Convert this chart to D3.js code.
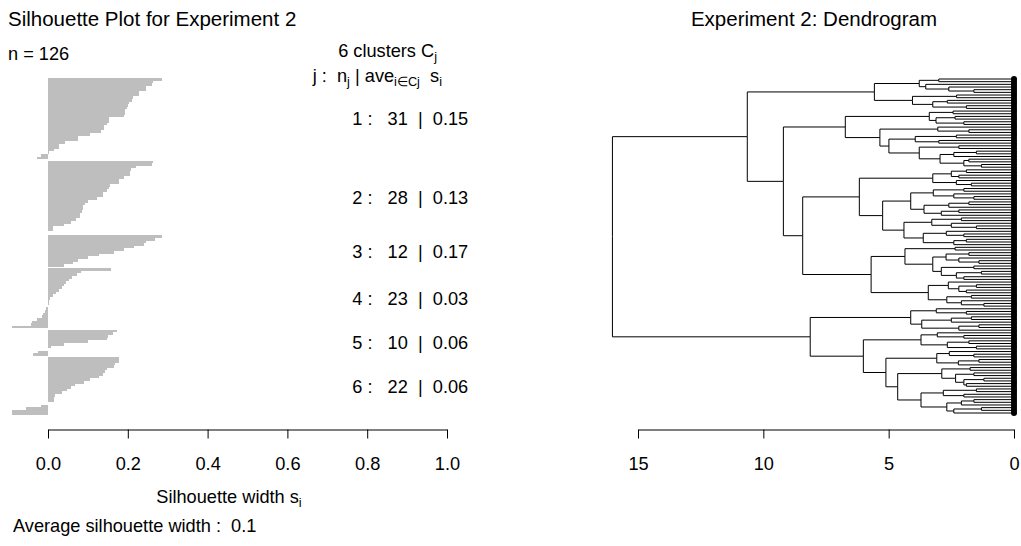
<!DOCTYPE html>
<html>
<head>
<meta charset="utf-8">
<script src="https://cdn.jsdelivr.net/npm/d3@7"></script>
<style>
  body { margin: 0; background: #fff; }
  text { font-family: "Liberation Sans", Arial, sans-serif; fill: #000; white-space: pre; }
</style>
</head>
<body>
<svg id="chart" width="1021" height="546"></svg>
<script>
// ---- silhouette widths, one array per cluster (sorted, top bar first)
const clusterIds = [1, 2, 3, 4, 5, 6];
const clusterAvg = ["0.15", "0.13", "0.17", "0.03", "0.06", "0.06"];
const sil1 = [0.285, 0.262, 0.260, 0.246, 0.245, 0.229, 0.228, 0.212, 0.210, 0.202, 0.200, 0.199, 0.193, 0.192, 0.190, 0.154,
              0.153, 0.148, 0.141, 0.140, 0.133, 0.105, 0.075, 0.074, 0.042, 0.028, 0.027, 0.015, 0.003, -0.018, -0.027];
const sil2 = [0.262, 0.260, 0.220, 0.207, 0.206, 0.205, 0.190, 0.178, 0.177, 0.155, 0.154, 0.147, 0.139, 0.138,
              0.122, 0.101, 0.093, 0.087, 0.087, 0.086, 0.080, 0.079, 0.070, 0.058, 0.039, 0.013, 0.012, 0.001];
const sil3 = [0.285, 0.268, 0.246, 0.241, 0.216, 0.191, 0.166, 0.129, 0.099, 0.075, 0.063, 0.040];
const sil4 = [0.157, 0.083, 0.073, 0.060, 0.053, 0.045, 0.040, 0.035, 0.027, 0.020, 0.012, 0.006, 0.003, 0.002,
              0.000, -0.004, -0.008, -0.012, -0.015, -0.027, -0.040, -0.042, -0.089];
const sil5 = [0.174, 0.162, 0.150, 0.147, 0.100, 0.040, 0.008, 0.000, -0.025, -0.038];
const sil6 = [0.178, 0.177, 0.167, 0.166, 0.147, 0.143, 0.139, 0.129, 0.105, 0.090, 0.068, 0.057, 0.047, 0.034,
              0.017, 0.015, 0.014, 0.000, -0.017, -0.054, -0.089, -0.089];
const silTicks = [0, 0.2, 0.4, 0.6, 0.8, 1.0];
const avgWidth = "0.1";

// ---- dendrogram: "o" = leaf, "(a,b)h" = merge at height h
const subA1 = "(((o,o)3.0,(o,(o,(o,o)1.6)2.6)3.52)3.78,((o,o)2.29,((o,o)2.66,(o,o)1.9)3.24)4.05)5.57";
const subA2a = "(((o,o)2.43,((o,o)2.35,(o,o)2.0)3.11)3.38,((o,(o,o)1.8)3.04,(((o,o)2.3,(o,o)3.0)3.94,((o,o)2.2,(((o,o)1.5,o)2.4,((o,o)1.8,(o,o)1.3)2.0)2.95)3.78)4.99)5.35)6.73";
const subA2b1 = "((((o,o)1.9,(o,o)2.2)2.5,(o,(o,o)1.7)2.3)3.24,((((o,o)2.0,(o,(o,o)1.6)2.4)3.22,(((o,o)1.8,o)2.6,((o,o)2.2,o)2.9)3.59)4.12,(((o,o)2.1,(o,(o,o)1.5)2.5)3.28,((o,(o,o)2.0)2.7,((o,o)1.9,o)2.4)3.62)4.39)5.24)6.17";
const subA2b2 = "(((o,o)2.35,(((o,o)1.8,(o,(o,o)1.4)2.2)2.71,((o,o)1.6,((o,o)1.3,(o,o)2.0)2.3)2.9)3.24)4.35,((o,((o,o)1.5,(o,o)1.9)2.2)2.62,((o,o)1.7,(o,(o,o)1.2)2.1)2.68)3.42)5.70";
const subB1 = "((o,(o,o)1.9)3.1,(((o,o)1.7,o)2.5,((o,o)1.4,o)2.2)3.68)4.12";
const subB2 = "(((o,(o,o)2.0)3.06,((o,o)1.8,(o,o)1.5)2.66)3.71,(((o,(o,o)1.6)2.58,((o,o)1.4,o)2.22)3.08,(((o,o)1.75,((o,o)1.6,((o,o)1.2,(o,o)1.9)2.0)2.33)2.88,(((o,o)1.5,(o,o)2.0)2.82,(((o,o)1.6,o)2.1,((o,o)1.3,o)2.4)2.68)3.71)4.64)5.11)6.01";
const topTree = "(({A1},({A2a},({A2b1},{A2b2})8.43)9.20)10.64,({B1},{B2})8.13)16.02";
const dendroTicks = [0, 5, 10, 15];

const svg = d3.select('#chart');
const FS = 18.2;
const SUB = FS * 0.7;

// ================= silhouette plot =================
const clusters = [sil1, sil2, sil3, sil4, sil5, sil6];
let bars = [];
let pos = 0;
clusters.forEach((vals, ci) => {
    vals.forEach(v => {
        bars.push({cluster: ci, value: v, pos: pos});
        pos += 1;
    });
    pos += 0.5;
});
const totalUnits = pos - 0.5;

const xSil = d3.scaleLinear().domain([0, 1]).range([48, 447]);
const ySil = d3.scaleLinear().domain([0, totalUnits]).range([78, 415]);

svg.append('g')
    .selectAll('rect')
    .data(bars)
    .join('rect')
    .attr('x', d => xSil(Math.min(0, d.value)))
    .attr('y', d => ySil(d.pos))
    .attr('width', d => Math.abs(xSil(d.value) - xSil(0)))
    .attr('height', d => ySil(d.pos + 1) - ySil(d.pos))
    .attr('fill', '#bebebe')
    .attr('shape-rendering', 'crispEdges');

const axisY = 429.5;
const silAxis = svg.append('g')
    .attr('transform', `translate(0,${axisY})`)
    .call(d3.axisBottom(xSil).tickValues(silTicks).tickFormat(d3.format('.1f')).tickSize(9).tickSizeOuter(0).tickPadding(19));
silAxis.selectAll('text').style('font-size', FS + 'px').style('font-family', '"Liberation Sans", Arial, sans-serif');
silAxis.selectAll('line, path').attr('stroke', '#000');

// titles and labels
svg.append('text').attr('x', 8).attr('y', 26).style('font-size', '20.5px')
    .text('Silhouette Plot for Experiment 2');

svg.append('text').attr('x', 8).attr('y', 60).style('font-size', FS + 'px')
    .text('n = 126');

const kText = svg.append('text').attr('x', 437).attr('y', 57).attr('text-anchor', 'end').style('font-size', FS + 'px');
kText.append('tspan').text(clusterIds.length + ' clusters C');
kText.append('tspan').attr('dy', 4).style('font-size', SUB + 'px').text('j');

const hdr = svg.append('text').attr('y', 82).attr('text-anchor', 'end').attr('x', 442).style('font-size', FS + 'px');
hdr.append('tspan').text('j :  n');
hdr.append('tspan').attr('dy', 4).style('font-size', SUB + 'px').text('j');
hdr.append('tspan').attr('dy', -4).text(' | ave');
hdr.append('tspan').attr('dy', 4).style('font-size', SUB + 'px').text('i\u2208Cj');
hdr.append('tspan').attr('dy', -4).text('  s');
hdr.append('tspan').attr('dy', 4).style('font-size', SUB + 'px').text('i');

clusters.forEach((vals, ci) => {
    const cb = bars.filter(b => b.cluster === ci);
    const ym = d3.mean(cb, b => ySil(b.pos + 0.5));
    const t = svg.append('text').attr('y', ym + 6.5).style('font-size', FS + 'px')
        .text(`${clusterIds[ci]} :   ${vals.length}  |  ${clusterAvg[ci]}`);
    const w = t.node().getComputedTextLength();
    t.attr('x', 445 - 0.8 * w);
});

const xl = svg.append('text').attr('x', 229).attr('y', 503).attr('text-anchor', 'middle').style('font-size', FS + 'px');
xl.append('tspan').text('Silhouette width s');
xl.append('tspan').attr('dy', 4).style('font-size', SUB + 'px').text('i');

svg.append('text').attr('x', 13).attr('y', 532).style('font-size', FS + 'px')
    .text('Average silhouette width :  ' + avgWidth);

// ================= dendrogram =================
const subs = {A1: subA1, A2a: subA2a, A2b1: subA2b1, A2b2: subA2b2, B1: subB1, B2: subB2};
const treeStr = topTree.replace(/\{(\w+)\}/g, (m, k) => subs[k]);

function parseTree(s) {
    let i = 0;
    function node() {
        if (s[i] === 'o') { i++; return {h: 0}; }
        i++;
        const l = node(); i++;
        const r = node(); i++;
        const j = i;
        while (i < s.length && /[0-9.]/.test(s[i])) i++;
        return {h: +s.slice(j, i), children: [l, r]};
    }
    return node();
}

const root = d3.hierarchy(parseTree(treeStr));
const leaves = root.leaves();
const xDen = d3.scaleLinear().domain([0, 15]).range([1014, 638]);
const yLeaf = d3.scaleLinear().domain([0, leaves.length - 1]).range([79, 413]);
leaves.forEach((d, i) => { d.y = yLeaf(i); });
root.eachAfter(d => {
    if (d.children) d.y = d3.mean(d.children, c => c.y);
});

svg.append('g')
    .selectAll('path')
    .data(root.links())
    .join('path')
    .attr('d', l => `M${xDen(l.source.data.h)},${l.source.y}V${l.target.y}H${xDen(l.target.data.h)}`)
    .attr('fill', 'none')
    .attr('stroke', '#000')
    .attr('stroke-width', 1);

svg.append('g')
    .selectAll('circle')
    .data(leaves)
    .join('circle')
    .attr('cx', xDen(0))
    .attr('cy', d => d.y)
    .attr('r', 3)
    .attr('fill', '#000');

const denAxis = svg.append('g')
    .attr('transform', `translate(0,${axisY})`)
    .call(d3.axisBottom(xDen).tickValues(dendroTicks).tickFormat(d3.format('d')).tickSize(9).tickSizeOuter(0).tickPadding(19));
denAxis.selectAll('text').style('font-size', FS + 'px').style('font-family', '"Liberation Sans", Arial, sans-serif');
denAxis.selectAll('line, path').attr('stroke', '#000');

svg.append('text').attr('x', 814).attr('y', 26).attr('text-anchor', 'middle').style('font-size', '20.5px')
    .text('Experiment 2: Dendrogram');
</script>
</body>
</html>
